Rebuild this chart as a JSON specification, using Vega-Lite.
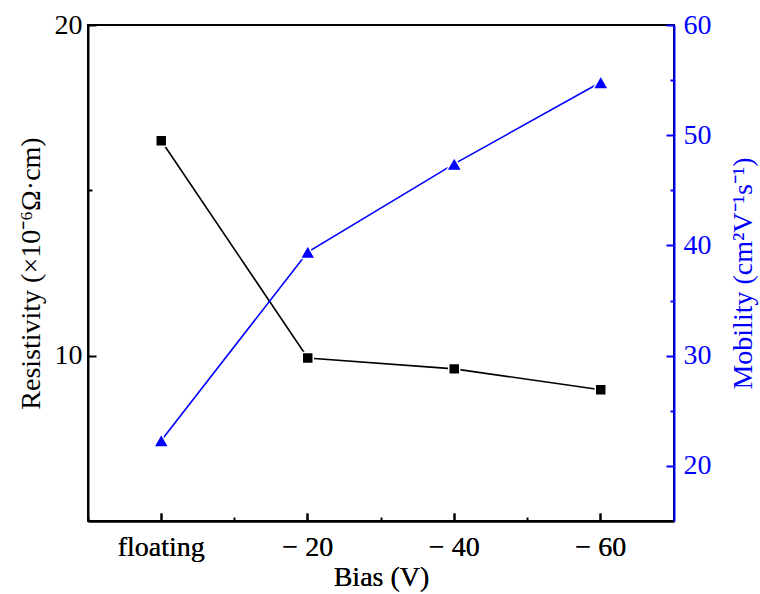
{
  "$schema": "https://vega.github.io/schema/vega-lite/v6.json",
  "width": 586,
  "height": 496,
  "autosize": {"type": "none"},
  "padding": {"left": 88, "top": 25, "right": 86, "bottom": 73},
  "background": "white",
  "config": {
    "font": "Liberation Serif",
    "view": {"stroke": "black", "strokeWidth": 2},
    "axis": {
      "grid": false,
      "labelFont": "Liberation Serif",
      "titleFont": "Liberation Serif",
      "labelFontSize": 28,
      "titleFontSize": 28,
      "titleFontWeight": "normal",
      "domainWidth": 2,
      "tickWidth": 2,
      "labelColor": "black",
      "titleColor": "black",
      "domainColor": "black",
      "tickColor": "black"
    }
  },
  "data": {
    "values": [
      {"bias": "floating", "resistivity": 16.5, "mobility": 22.3},
      {"bias": "− 20", "resistivity": 9.93, "mobility": 39.4},
      {"bias": "− 40", "resistivity": 9.6, "mobility": 47.4},
      {"bias": "− 60", "resistivity": 8.97, "mobility": 54.8}
    ]
  },
  "encoding": {
    "x": {
      "field": "bias",
      "type": "nominal",
      "sort": null,
      "scale": {"type": "band", "paddingInner": 0, "paddingOuter": 0},
      "axis": {
        "title": "Bias (V)",
        "orient": "bottom",
        "labelAngle": 0,
        "tickSize": -8,
        "labelPadding": 20,
        "titlePadding": 2
      }
    }
  },
  "layer": [
    {
      "mark": {
        "type": "line",
        "color": "black",
        "strokeWidth": 1.6,
        "point": {"shape": "square", "size": 120, "filled": true, "fill": "black", "stroke": "white", "strokeWidth": 1.5}
      },
      "encoding": {
        "y": {
          "field": "resistivity",
          "type": "quantitative",
          "scale": {"domain": [5, 20], "nice": false, "zero": false},
          "axis": {
            "title": "Resistivity (×10⁻⁶Ω·cm)",
            "orient": "left",
            "values": [10, 15, 20],
            "labelExpr": "datum.value % 10 === 0 ? datum.label : ''",
            "tickSize": {"condition": {"test": "datum.value % 10 === 0", "value": -8}, "value": -4},
            "labelPadding": 14,
            "titlePadding": 9
          }
        }
      }
    },
    {
      "mark": {
        "type": "line",
        "color": "#0000ff",
        "strokeWidth": 1.6,
        "point": {"shape": "triangle-up", "size": 230, "filled": true, "fill": "#0000ff", "stroke": "white", "strokeWidth": 1.5}
      },
      "encoding": {
        "y": {
          "field": "mobility",
          "type": "quantitative",
          "scale": {"domain": [15, 60], "nice": false, "zero": false},
          "axis": {
            "title": "Mobility (cm²V⁻¹s⁻¹)",
            "orient": "right",
            "values": [20, 25, 30, 35, 40, 45, 50, 55, 60],
            "labelExpr": "datum.value % 10 === 0 ? datum.label : ''",
            "tickSize": {"condition": {"test": "datum.value % 10 === 0", "value": -8}, "value": -4},
            "labelPadding": 17,
            "titleAngle": -90,
            "titleBaseline": "top",
            "titlePadding": 18,
            "domainColor": "#0000ff",
            "tickColor": "#0000ff",
            "labelColor": "#0000ff",
            "titleColor": "#0000ff"
          }
        }
      }
    },
    {
      "mark": {"type": "rule", "opacity": 0},
      "encoding": {
        "x": {
          "field": "bias",
          "type": "nominal",
          "sort": null,
          "axis": {
            "title": null,
            "orient": "bottom",
            "labels": false,
            "domain": false,
            "bandPosition": 0,
            "tickSize": -4
          }
        }
      }
    }
  ],
  "resolve": {"scale": {"y": "independent"}, "axis": {"x": "independent"}}
}
